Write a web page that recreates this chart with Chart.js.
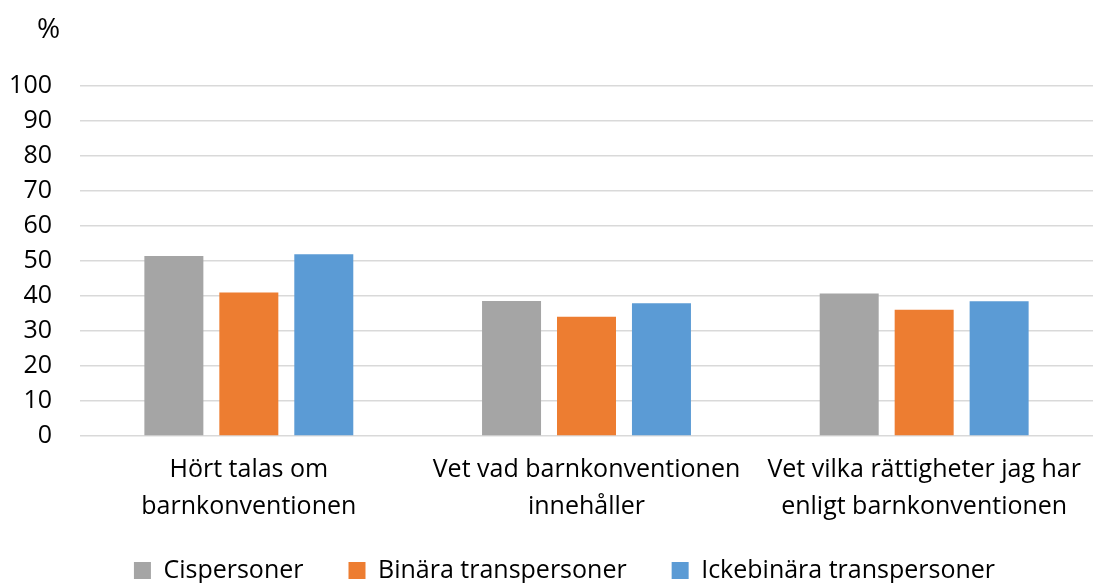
<!DOCTYPE html>
<html lang="sv">
<head>
<meta charset="utf-8">
<title>Barnkonventionen</title>
<script src="https://cdn.jsdelivr.net/npm/chart.js@4.4.1/dist/chart.umd.min.js"></script>
<style>
  body { margin: 0; background: #fff; }
  #wrap { width: 1093px; height: 583px; position: relative; }
</style>
</head>
<body>
<div id="wrap"><canvas id="chart"></canvas></div>
<script>
// category labels (two lines each)
const categories = [
    ['Hört talas om', 'barnkonventionen'],
    ['Vet vad barnkonventionen', 'innehåller'],
    ['Vet vilka rättigheter jag har', 'enligt barnkonventionen']
];
const seriesNames = ['Cispersoner', 'Binära transpersoner', 'Ickebinära transpersoner'];
const cisValues = [51.4, 38.6, 40.7];
const binaraValues = [41.0, 34.1, 36.1];
const ickebinaraValues = [51.9, 37.9, 38.5];
const seriesColors = ['#a5a5a5', '#ed7d31', '#5b9bd5'];
const yTicks = [0, 10, 20, 30, 40, 50, 60, 70, 80, 90, 100];

const FONT = "'Open Sans', sans-serif";

// draws the "%" unit label above the y axis
const unitLabel = {
    id: 'unitLabel',
    afterDraw(chart) {
        const ctx = chart.ctx;
        ctx.save();
        ctx.font = '28px ' + FONT;
        ctx.fillStyle = '#000';
        ctx.textAlign = 'left';
        ctx.textBaseline = 'middle';
        ctx.fillText('%', 37, 30);
        ctx.restore();
    }
};

// nudge the legend a bit right and up, like the original
const legendShift = {
    id: 'legendShift',
    afterLayout(chart) {
        chart.legend.left += 36;
        chart.legend.top -= 13;
    }
};

const values = [cisValues, binaraValues, ickebinaraValues];

new Chart(document.getElementById('chart').getContext('2d'), {
    type: 'bar',
    data: {
        labels: categories,
        datasets: seriesNames.map((name, i) => ({
            label: name,
            data: values[i],
            backgroundColor: seriesColors[i],
            categoryPercentage: 0.666,
            barPercentage: 0.787
        }))
    },
    options: {
        responsive: true,
        maintainAspectRatio: false,
        animation: false,
        layout: { padding: { top: 86, left: 0, right: 0, bottom: -23 } },
        plugins: {
            tooltip: { enabled: false },
            legend: {
                position: 'bottom',
                labels: {
                    color: '#000',
                    font: { family: FONT, size: 25 },
                    boxWidth: 17,
                    boxHeight: 17,
                    padding: 45
                }
            }
        },
        scales: {
            x: {
                afterFit(scale) { scale.height = 90; },
                grid: { display: false },
                border: { display: false },
                ticks: {
                    color: '#000',
                    font: { family: FONT, size: 25, lineHeight: 1.45 },
                    padding: 8,
                    maxRotation: 0,
                    autoSkip: false
                }
            },
            y: {
                min: 0,
                max: 100,
                afterFit(scale) { scale.width = 80; },
                afterBuildTicks(scale) { scale.ticks = yTicks.map(v => ({ value: v })); },
                grid: { color: '#d9d9d9', lineWidth: 1.5, drawTicks: false },
                border: { display: false },
                ticks: {
                    color: '#000',
                    font: { family: FONT, size: 25 },
                    padding: 28,
                    autoSkip: false
                }
            }
        }
    },
    plugins: [unitLabel, legendShift]
});
</script>
</body>
</html>
